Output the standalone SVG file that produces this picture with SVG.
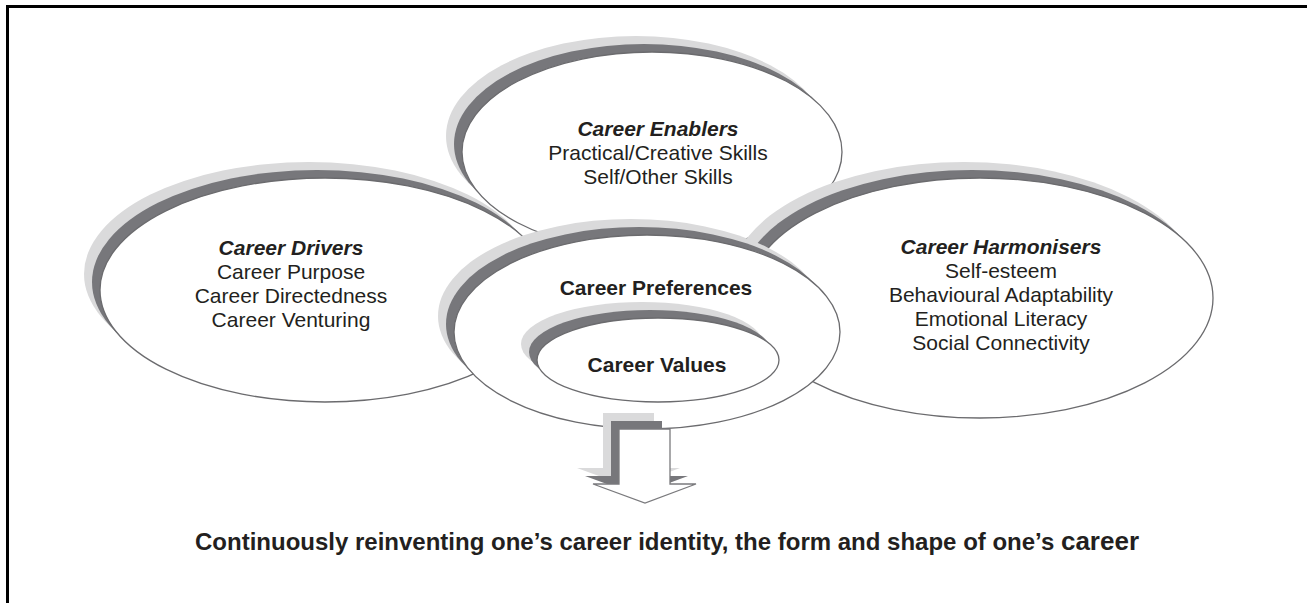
<svg xmlns="http://www.w3.org/2000/svg" width="1307" height="603" viewBox="0 0 1307 603">
<style>
.lt{fill:#dadadb}
.dk{fill:#77777b}
.wh{fill:#fff;stroke:#6b6b6e;stroke-width:1.3}
text{font-family:"Liberation Sans",Arial,sans-serif;font-size:21px;fill:#231f20;text-anchor:middle}
.ti{font-weight:bold;font-style:italic}
.b{font-weight:bold}
</style>
<rect x="0" y="0" width="1307" height="603" fill="#fff"/>
<path d="M7.5,603 V6.5 H1307" fill="none" stroke="#000" stroke-width="3"/>
<g id="drivers">
<ellipse class="lt" cx="309" cy="274" rx="225" ry="112"/>
<ellipse class="dk" cx="317" cy="282" rx="225" ry="112"/>
<ellipse class="wh" cx="325" cy="290" rx="225" ry="112"/>
<text x="291" y="255" class="ti">Career Drivers</text>
<text x="291" y="279">Career Purpose</text>
<text x="291" y="303">Career Directedness</text>
<text x="291" y="327">Career Venturing</text>
</g>
<g id="enablers">
<ellipse class="lt" cx="636" cy="136" rx="190" ry="100"/>
<ellipse class="dk" cx="644" cy="144" rx="190" ry="100"/>
<ellipse class="wh" cx="652" cy="152" rx="190" ry="100"/>
<text x="658" y="136" class="ti">Career Enablers</text>
<text x="658" y="160">Practical/Creative Skills</text>
<text x="658" y="184">Self/Other Skills</text>
</g>
<g id="harmonisers">
<ellipse class="lt" cx="964" cy="282" rx="233" ry="120"/>
<ellipse class="dk" cx="972" cy="290" rx="233" ry="120"/>
<ellipse class="wh" cx="980" cy="298" rx="233" ry="120"/>
<text x="1001" y="254" class="ti">Career Harmonisers</text>
<text x="1001" y="278">Self-esteem</text>
<text x="1001" y="302">Behavioural Adaptability</text>
<text x="1001" y="326">Emotional Literacy</text>
<text x="1001" y="350">Social Connectivity</text>
</g>
<g id="preferences">
<ellipse class="lt" cx="631" cy="316" rx="193" ry="97"/>
<ellipse class="dk" cx="639" cy="324" rx="193" ry="97"/>
<ellipse class="wh" cx="647" cy="332" rx="193" ry="97"/>
<text x="656" y="295" class="b">Career Preferences</text>
</g>
<g id="values">
<ellipse class="lt" cx="642" cy="344" rx="121" ry="42"/>
<ellipse class="dk" cx="650" cy="352" rx="121" ry="42"/>
<ellipse class="wh" cx="658" cy="360" rx="121" ry="42"/>
<text x="657" y="372" class="b">Career Values</text>
</g>
<g id="connectors">
<polygon class="lt" points="603,413 654,413 654,468 680,468 629,487 577,468 603,468"/>
<polygon class="dk" points="611,421 662,421 662,476 688,476 637,495 585,476 611,476"/>
<polygon class="wh" points="619,429 670,429 670,484 696,484 645,503 593,484 619,484" style="stroke:#7a7a7d"/>
</g>
<g id="outcome">
<text x="195" y="550" class="b" style="text-anchor:start;font-size:24px">Continuously reinventing one’s career identity, the form and shape of one’s <tspan style="font-size:26px">career</tspan></text>
</g>
</svg>
